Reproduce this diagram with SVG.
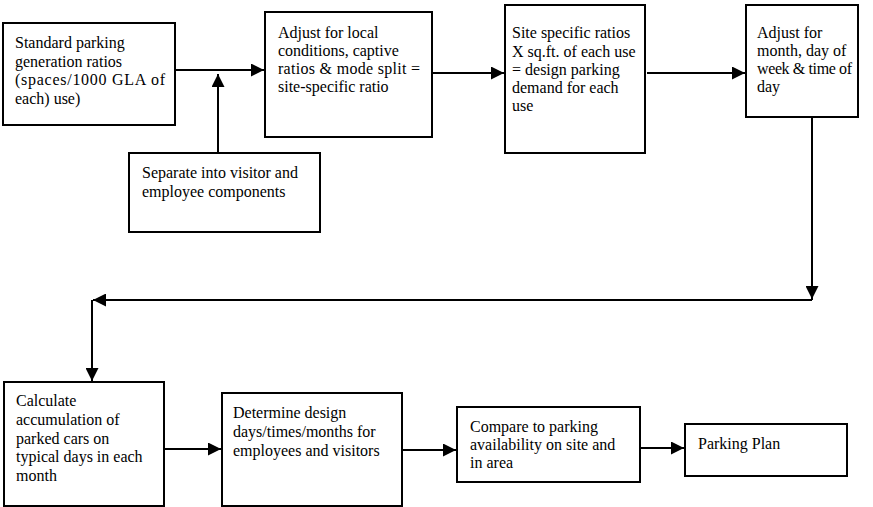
<svg xmlns="http://www.w3.org/2000/svg" width="873" height="507" viewBox="0 0 873 507">
<style>
.box{fill:#fff;stroke:#000;stroke-width:2}
.t{font-family:"Liberation Serif","Times New Roman",serif;font-size:16px;fill:#000}
.c{fill:none;stroke:#000;stroke-width:2}
</style>
<defs>
<marker id="ah" viewBox="0 0 10 10" refX="10" refY="5" markerWidth="7" markerHeight="6.5" markerUnits="strokeWidth" orient="auto">
<path d="M0,0 L10,5 L0,10 Z" fill="#000"/>
</marker>
</defs>
<rect width="873" height="507" fill="#fff"/>
<g id="connectors">
<path class="c" d="M175,70 H264" marker-end="url(#ah)"/>
<path class="c" d="M218,153 V74" marker-end="url(#ah)"/>
<path class="c" d="M432,73 H504" marker-end="url(#ah)"/>
<path class="c" d="M647,73 H745" marker-end="url(#ah)"/>
<path class="c" d="M812,118 V300"/>
<path class="c" d="M812,286 V299" marker-end="url(#ah)"/>
<path class="c" d="M812,300 H93" marker-end="url(#ah)"/>
<path class="c" d="M92,300 V381" marker-end="url(#ah)"/>
<path class="c" d="M164,449 H221" marker-end="url(#ah)"/>
<path class="c" d="M402,450 H456" marker-end="url(#ah)"/>
<path class="c" d="M640,448 H684" marker-end="url(#ah)"/>
</g>
<g id="n1">
<rect class="box" x="3" y="23" width="172" height="102"/>
<text class="t" x="15" y="48">Standard parking</text>
<text class="t" x="15" y="66.5">generation ratios</text>
<text class="t" x="15" y="85" textLength="150">(spaces/1000 GLA of</text>
<text class="t" x="15" y="103.5">each) use)</text>
</g>
<g id="n2">
<rect class="box" x="265" y="12" width="167" height="125"/>
<text class="t" x="278" y="38">Adjust for local</text>
<text class="t" x="278" y="56">conditions, captive</text>
<text class="t" x="278" y="74" textLength="142">ratios &amp; mode split =</text>
<text class="t" x="278" y="92">site-specific ratio</text>
</g>
<g id="n3">
<rect class="box" x="505" y="5" width="140" height="148"/>
<text class="t" x="512" y="38">Site specific ratios</text>
<text class="t" x="512" y="56.5">X sq.ft. of each use</text>
<text class="t" x="512" y="75">= design parking</text>
<text class="t" x="512" y="93">demand for each</text>
<text class="t" x="512" y="111">use</text>
</g>
<g id="n4">
<rect class="box" x="746" y="5" width="112" height="112"/>
<text class="t" x="757" y="38">Adjust for</text>
<text class="t" x="757" y="56">month, day of</text>
<text class="t" x="757" y="74" textLength="95">week &amp; time of</text>
<text class="t" x="757" y="92">day</text>
</g>
<g id="n5">
<rect class="box" x="129" y="153" width="191" height="79"/>
<text class="t" x="142" y="178">Separate into visitor and</text>
<text class="t" x="142" y="197">employee components</text>
</g>
<g id="n6">
<rect class="box" x="4" y="382" width="160" height="124"/>
<text class="t" x="16" y="406">Calculate</text>
<text class="t" x="16" y="425">accumulation of</text>
<text class="t" x="16" y="443.5">parked cars on</text>
<text class="t" x="16" y="462">typical days in each</text>
<text class="t" x="16" y="480.5">month</text>
</g>
<g id="n7">
<rect class="box" x="222" y="393" width="180" height="113"/>
<text class="t" x="233" y="418">Determine design</text>
<text class="t" x="233" y="437">days/times/months for</text>
<text class="t" x="233" y="456">employees and visitors</text>
</g>
<g id="n8">
<rect class="box" x="457" y="407" width="183" height="75"/>
<text class="t" x="470" y="432">Compare to parking</text>
<text class="t" x="470" y="450">availability on site and</text>
<text class="t" x="470" y="468">in area</text>
</g>
<g id="n9">
<rect class="box" x="685" y="424" width="162" height="52"/>
<text class="t" x="698" y="449">Parking Plan</text>
</g>
</svg>
